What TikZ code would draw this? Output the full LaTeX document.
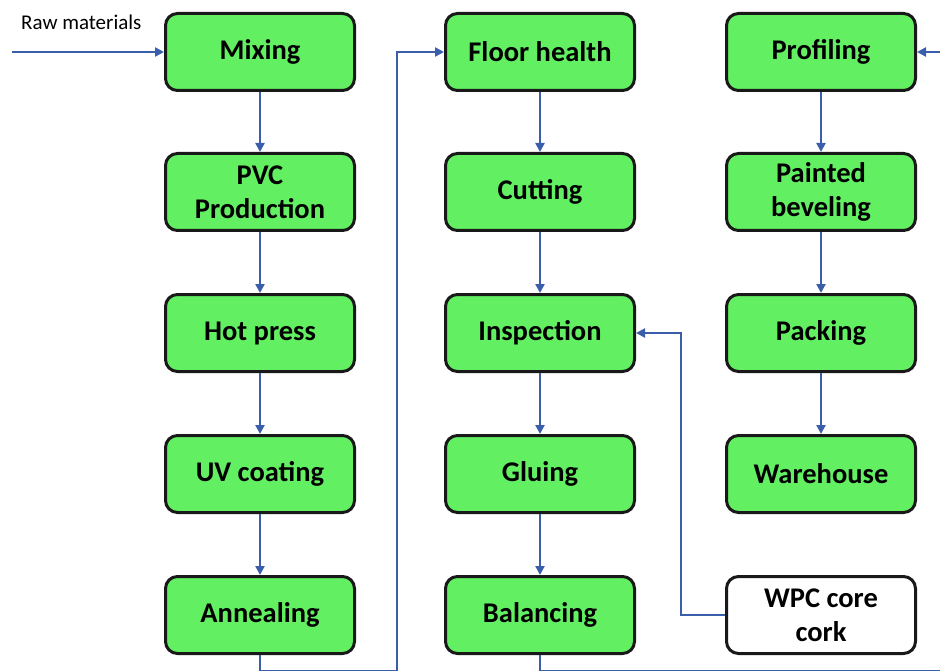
\documentclass[tikz,border=0pt]{standalone}
\usepackage{fontspec}
\setmainfont{Carlito}
\usetikzlibrary{arrows.meta}
\definecolor{boxgreen}{HTML}{62F062}
\definecolor{linkblue}{HTML}{3B5EAA}
\tikzset{
  stepbox/.style={draw=black!90, line width=3pt, fill=boxgreen, rounded corners=12pt,
    minimum width=189pt, minimum height=77pt, align=center,
    font=\fontsize{28.5}{34}\selectfont\bfseries, inner sep=2pt},
  plainbox/.style={stepbox, fill=white},
  link/.style={draw=linkblue, line width=2.7pt, -{Triangle[length=9pt,width=9pt]}},
}
\begin{document}
\begin{tikzpicture}[x=1pt,y=-1pt]
\useasboundingbox (0,0) rectangle (940,671);
\clip (0,0) rectangle (940,671);
% column 1
\node[stepbox] (mix) at (260,52) {Mixing};
\node[stepbox] (pvc) at (260,192) {PVC\\Production};
\node[stepbox] (hot) at (260,333) {Hot press};
\node[stepbox] (uv) at (260,474) {UV coating};
\node[stepbox] (ann) at (260,615) {Annealing};
% column 2
\node[stepbox] (floor) at (540,52) {Floor health};
\node[stepbox] (cut) at (540,192) {Cutting};
\node[stepbox] (insp) at (540,333) {Inspection};
\node[stepbox] (glu) at (540,474) {Gluing};
\node[stepbox] (bal) at (540,615) {Balancing};
% column 3
\node[stepbox] (prof) at (821,52) {Profiling};
\node[stepbox] (paint) at (821,192) {Painted\\beveling};
\node[stepbox] (pack) at (821,333) {Packing};
\node[stepbox] (ware) at (821,474) {Warehouse};
\node[plainbox] (wpc) at (821,615) {WPC core\\cork};
% input
\coordinate (rawin) at (12,52);
\node[anchor=south west, inner sep=0pt, font=\fontsize{21}{24}\selectfont] (rawlbl) at (21,30) {Raw materials};
\draw[link] (rawin) -- (mix.west);
% vertical chains
\draw[link] (mix) -- (pvc);
\draw[link] (pvc) -- (hot);
\draw[link] (hot) -- (uv);
\draw[link] (uv) -- (ann);
\draw[link] (floor) -- (cut);
\draw[link] (cut) -- (insp);
\draw[link] (insp) -- (glu);
\draw[link] (glu) -- (bal);
\draw[link] (prof) -- (paint);
\draw[link] (paint) -- (pack);
\draw[link] (pack) -- (ware);
% WPC to inspection
\coordinate (wpcturn) at (681,615);
\coordinate (wpcup) at (681,333);
\draw[link] (wpc.west) -- (wpcturn) -- (wpcup) -- (insp.east);
% annealing to floor health
\coordinate (a1) at (260,671);
\coordinate (a2) at (397,671);
\coordinate (a3) at (397,52);
\draw[link] (ann.south) -- (a1) -- (a2) -- (a3) -- (floor.west);
% balancing to profiling
\coordinate (b1) at (540,671);
\coordinate (b2) at (946,671);
\coordinate (b3) at (946,52);
\draw[link] (bal.south) -- (b1) -- (b2) -- (b3) -- (prof.east);
\end{tikzpicture}
\end{document}
